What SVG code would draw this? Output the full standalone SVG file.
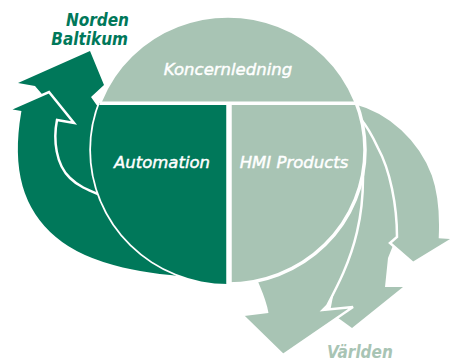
<svg xmlns="http://www.w3.org/2000/svg" width="455" height="360" viewBox="0 0 455 360">
<style>
.dk{fill:#00785A}
.lt{fill:#A8C4B4}
.ws{stroke:#FFFFFF;stroke-width:2.5;stroke-linejoin:miter}
.lbl{font-family:"DejaVu Sans",Verdana,sans-serif;font-style:italic;font-weight:400;font-size:16.5px;fill:#FFFFFF;stroke:#FFFFFF;stroke-width:0.45;text-anchor:middle}
.out{font-family:"DejaVu Sans Condensed","DejaVu Sans",sans-serif;font-stretch:condensed;font-style:italic;font-weight:700;font-size:17px}
</style>
<defs>
<clipPath id="circ"><ellipse cx="228" cy="150" rx="137" ry="134"/></clipPath>
</defs>
<g id="connectors">
<path id="arrowA" class="dk" d="M90,51 L104,85 L91,97 L98,107 L130,150 L120,220 L75,200 L40,150 L47,100 L35,86 L18,83 Z"/>
<path id="arrowB" class="dk ws" d="M49,92 L74,123 L57,120 C53,140 56,165 70,178 C78,186 88,190 98,194 L160,240 L205,279 C150,276 90,268 55,238 C22,210 10,170 20,112 L8,110 Z"/>
<path id="arrowD" class="lt" d="M340,118 L368,120 L384,150 L393,175 L398,200 L400,228 L388,258 L385,287 L403,287 L352,328 L330,312 L340,260 L345,200 L335,150 Z"/>
<path id="arrowC" class="lt ws" d="M335,100 L355,103 C390,112 420,140 433,175 C440,195 441,215 440,237 L454,238 L413,263 L390,243 L397,237 C397,205 390,170 378,148 C372,135 366,125 360,118 L330,130 Z"/>
<path id="arrowE" class="lt ws" d="M250,268 L256,280 C260,290 265,300 267,312 L242,315 L283,355 L353,307 L323,310 L327,306 C338,285 350,262 357,232 C361,215 363,195 363,178 L363,170 L330,170 Z"/>
</g>
<g id="circle">
<ellipse cx="228" cy="150" rx="137" ry="134" class="lt" stroke="#FFFFFF" stroke-width="3.5"/>
<g clip-path="url(#circ)">
<rect x="80" y="103" width="149" height="190" class="dk"/>
<line x1="80" y1="103.3" x2="380" y2="103.3" stroke="#FFFFFF" stroke-width="3.5"/>
<line x1="229" y1="103" x2="229" y2="290" stroke="#FFFFFF" stroke-width="5.5"/>
</g>
</g>
<g id="koncernledning"><text class="lbl" x="228" y="75">Koncernledning</text></g>
<g id="automation"><text class="lbl" x="162" y="168">Automation</text></g>
<g id="hmi"><text class="lbl" x="294" y="168">HMI Products</text></g>
<g id="norden"><text class="out" fill="#00785A" text-anchor="end"><tspan x="129" y="26">Norden</tspan><tspan x="128" y="45">Baltikum</tspan></text></g>
<g id="varlden"><text class="out" fill="#A8C4B4" x="327" y="357.5">Världen</text></g>
</svg>
